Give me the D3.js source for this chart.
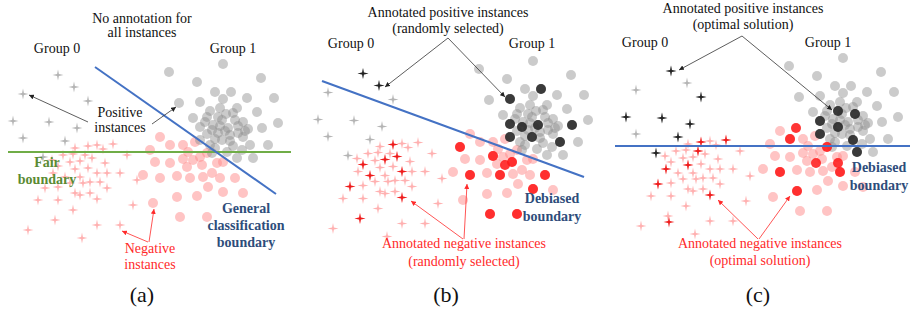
<!DOCTYPE html>
<html>
<head>
<meta charset="utf-8">
<script src="https://cdn.jsdelivr.net/npm/d3@7"></script>
<style>
  body { margin: 0; background: #fff; }
  svg { display: block; }
  text { font-family: "Liberation Serif", "Times New Roman", serif; }
</style>
</head>
<body>
<div id="chart"></div>
<script>
// point clouds, in the frame of panel (a)
var grayPlus = [[58,75],[74,87],[23,94],[88,101],[13,121],[49,122],[77,128],[23,138],[65,141],[43,157]];

var pinkPlus = [[88,146],[97,145],[113,144],[75,148],[63,155],[73,154],[85,155],[103,149],[127,155],
  [52,160],[70,162],[80,161],[92,158],[105,163],[58,166],[75,169],[88,168],[97,173],[107,173],
  [120,173],[80,177],[53,173],[65,177],[90,182],[100,182],[70,183],[83,183],[58,187],[45,188],
  [107,188],[75,193],[90,193],[137,180],[38,200],[58,200],[80,195],[97,199],[133,205],[73,210],
  [55,220],[97,225],[120,225],[28,230],[82,238]];

var grayDots = [[223,64],[169,72],[261,78],[197,82],[215,92],[231,92],[247,98],[274,98],
  [179,103],[200,102],[223,99],[220,108],[237,108],[257,112],[193,118],[207,117],
  [233,113],[222,120],[243,122],[278,123],[200,127],[213,125],[228,128],[248,129],
  [262,128],[207,134],[218,133],[230,135],[243,137],[268,145],[200,140],[222,140],
  [233,146],[215,148],[227,152],[242,150],[237,158],[253,158],[212,130],[238,126],
  [226,114],[250,145],[210,111],[218,117],[235,120],[205,122],[215,139],[225,131],
  [238,133],[210,145],[245,131],[220,126],[230,141],[212,153]];

var pinkDots = [[160,137],[170,145],[183,145],[195,142],[150,150],[188,152],[207,153],
  [155,162],[170,163],[183,159],[193,160],[200,157],[202,165],[217,163],[223,162],[187,167],
  [143,175],[160,178],[177,176],[190,178],[203,177],[212,173],[220,178],[235,178],[208,187],
  [223,192],[243,193],[177,197],[197,196],[153,203],[180,217],[207,217]];

// annotated instances, panel (b): randomly selected
var bPosPlus = [[57,75],[73,88]];
var bNegPlus = [[88,146],[95,158],[80,162],[59,166],[69,176],[98,177],[46,190],[98,201],[56,223]];
var bPosDots = [[231,92],[198,103],[198,129],[213,132],[230,129],[262,129],[202,140],[220,140],[247,143]];
var bNegDots = [[147,150],[182,162],[195,168],[205,163],[157,181],[188,182],[234,181],[223,195],[178,221],[205,221]];

// annotated instances, panel (c): optimal solution
var cPosPlus = [[59,75],[90,101],[12,121],[49,122],[78,130],[67,143],[42,159]];
var cNegPlus = [[89,141],[109,144],[87,157],[53,172],[74,174],[45,193],[99,204],[56,226]];
var cPosDots = [[214,119],[236,119],[200,129],[221,133],[203,142],[234,148],[238,161]];
var cNegDots = [[176,134],[168,149],[204,155],[196,169],[218,169],[157,181],[220,183],[176,201]];

// boundaries (panel-local)
var aGeneral = [[95,67],[276,194]];
var aFair = [[8,152],[291,152]];
var bDebiased = [[17,81],[279,177]];
var cDebiased = [[2,146],[297,146]];

var W = 911, H = 311;
var svg = d3.select("#chart").append("svg").attr("width", W).attr("height", H);
svg.append("rect").attr("width", W).attr("height", H).attr("fill", "#fff");

var defs = svg.append("defs");
function marker(id, color) {
  defs.append("marker").attr("id", id)
    .attr("viewBox", "0 0 6 6").attr("refX", 6).attr("refY", 3)
    .attr("markerWidth", 5).attr("markerHeight", 5)
    .attr("markerUnits", "userSpaceOnUse").attr("orient", "auto")
    .append("path").attr("d", "M0,0L6,3L0,6z").attr("fill", color);
}
marker("arrBlack", "#222");
marker("arrRed", "#ff2a2a");

// 4 point star used for group 0
function star(r, w) {
  return "M0," + (-r) + "L" + w + "," + (-w) + "L" + r + ",0L" + w + "," + w +
    "L0," + r + "L" + (-w) + "," + w + "L" + (-r) + ",0L" + (-w) + "," + (-w) + "Z";
}

var plusShift = [[0,0],[305,-1.5],[613,-4]];
var dotShift = [[0,0],[310,-3],[620,-6]];
var panelX = [0, 305, 613];

function scalesFor(shift) {
  var x = d3.scaleLinear().domain([0, 300]).range([shift[0], shift[0] + 300]);
  var y = d3.scaleLinear().domain([0, 311]).range([shift[1], shift[1] + 311]);
  return { x: x, y: y };
}

function snap(list, base) {
  return list.map(function (p) {
    var best = p, bd = 36;
    base.forEach(function (q) {
      var d = (p[0]-q[0])*(p[0]-q[0]) + (p[1]-q[1])*(p[1]-q[1]);
      if (d < bd) { bd = d; best = q; }
    });
    return best;
  });
}

function drawPlus(g, s, data, color) {
  g.selectAll(null).data(data).enter().append("path")
    .attr("d", star(5.5, 0.9))
    .attr("transform", function (d) { return "translate(" + s.x(d[0]) + "," + s.y(d[1]) + ")"; })
    .attr("fill", color);
}
function drawDots(g, s, data, color, op) {
  g.selectAll(null).data(data).enter().append("circle")
    .attr("cx", function (d) { return s.x(d[0]); })
    .attr("cy", function (d) { return s.y(d[1]); })
    .attr("r", 5)
    .attr("fill", color).attr("fill-opacity", op);
}
function drawLine(g, i, pts, color) {
  var x = d3.scaleLinear().domain([0, 300]).range([panelX[i], panelX[i] + 300]);
  var line = d3.line().x(function (d) { return x(d[0]); }).y(function (d) { return d[1]; });
  g.append("path").attr("d", line(pts)).attr("fill", "none")
    .attr("stroke", color).attr("stroke-width", 2);
}
function label(x, y, lines, opt) {
  opt = opt || {};
  var t = svg.append("text").attr("x", x).attr("y", y)
    .attr("text-anchor", "middle")
    .attr("font-size", opt.size || 14)
    .attr("font-weight", opt.bold ? "bold" : "normal")
    .attr("fill", opt.color || "#111");
  lines.forEach(function (l, k) {
    t.append("tspan").attr("x", x).attr("dy", k === 0 ? 0 : (opt.lh || 14)).text(l);
  });
}
function arrow(x1, y1, x2, y2, red) {
  svg.append("line").attr("x1", x1).attr("y1", y1).attr("x2", x2).attr("y2", y2)
    .attr("stroke", red ? "#ff2a2a" : "#333").attr("stroke-width", 0.8)
    .attr("marker-end", red ? "url(#arrRed)" : "url(#arrBlack)");
}

var annotated = [null,
  { pp: bPosPlus, np: bNegPlus, pd: bPosDots, nd: bNegDots },
  { pp: cPosPlus, np: cNegPlus, pd: cPosDots, nd: cNegDots }];

[0, 1, 2].forEach(function (i) {
  var g = svg.append("g");
  var sp = scalesFor(plusShift[i]);
  var sd = scalesFor(dotShift[i]);
  drawPlus(g, sp, grayPlus, "#b4b4b4");
  drawPlus(g, sp, pinkPlus, "#ffb0b0");
  drawDots(g, sd, pinkDots, "#ff8a8a", 0.5);
  drawDots(g, sd, grayDots, "#8c8c8c", 0.45);
  var a = annotated[i];
  if (a) {
    drawPlus(g, sp, snap(a.pp, grayPlus), "#222");
    drawPlus(g, sp, snap(a.np, pinkPlus), "#ee1c1c");
    drawDots(g, sd, snap(a.pd, grayDots), "#262626", 0.88);
    drawDots(g, sd, snap(a.nd, pinkDots), "#ff1a1a", 0.88);
  }
});

drawLine(svg, 0, aFair, "#70ad47");
drawLine(svg, 0, aGeneral, "#4472c4");
drawLine(svg, 1, bDebiased, "#4472c4");
drawLine(svg, 2, cDebiased, "#4472c4");

// panel (a)
label(142, 22.5, ["No annotation for", "all instances"]);
label(57, 53, ["Group 0"]);
label(233, 53, ["Group 1"]);
label(120, 117, ["Positive", "instances"], { lh: 15 });
arrow(88, 122, 29, 95);
arrow(152, 124, 176, 107);
label(47, 167, ["Fair", "boundary"], { bold: true, color: "#5a8a33", lh: 17 });
label(246, 213, ["General", "classification", "boundary"], { bold: true, color: "#2e4d7b", lh: 17 });
label(150, 253, ["Negative", "instances"], { color: "#ff2a2a", lh: 16 });
arrow(149, 242, 154, 209, true);
arrow(148, 242, 122, 231, true);
label(142, 302, ["(a)"], { size: 22 });

// panel (b)
label(448, 17, ["Annotated positive instances", "(randomly selected)"], { lh: 16 });
label(351, 48, ["Group 0"]);
label(532, 48, ["Group 1"]);
arrow(448, 38, 385, 87);
arrow(448, 38, 505, 97);
label(552, 203, ["Debiased", "boundary"], { bold: true, color: "#2e4d7b", lh: 18 });
label(464, 248, ["Annotated negative instances", "(randomly selected)"], { color: "#ff2a2a", lh: 18 });
arrow(464, 239, 467, 184, true);
arrow(463, 239, 411, 201, true);
label(446, 302, ["(b)"], { size: 22 });

// panel (c)
label(743, 13, ["Annotated positive instances", "(optimal solution)"], { lh: 16 });
label(645, 47, ["Group 0"]);
label(828, 47, ["Group 1"]);
arrow(742, 36, 679, 70);
arrow(742, 36, 832, 110);
label(879, 172, ["Debiased", "boundary"], { bold: true, color: "#2e4d7b", lh: 18 });
label(760, 248, ["Annotated negative instances", "(optimal solution)"], { color: "#ff2a2a", lh: 17 });
arrow(759, 239, 790, 196, true);
arrow(758, 239, 718, 200, true);
label(758, 302, ["(c)"], { size: 22 });
</script>
</body>
</html>
